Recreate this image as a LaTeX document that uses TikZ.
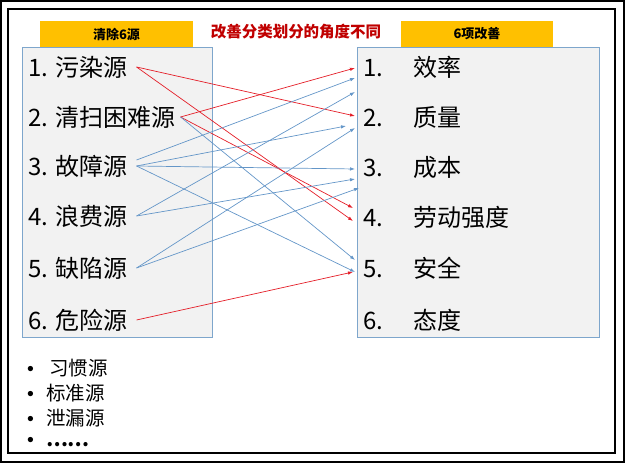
\documentclass[tikz,border=0pt]{standalone}
\usepackage{fontspec}
\setmainfont{Noto Sans CJK SC}
\newfontfamily\bulfont{Liberation Sans}
\usetikzlibrary{arrows.meta}
\definecolor{hdrorange}{RGB}{255,192,0}
\definecolor{boxfill}{RGB}{242,242,242}
\definecolor{boxline}{RGB}{126,166,204}
\definecolor{arrblue}{RGB}{100,150,200}
\definecolor{arrred}{RGB}{228,30,40}
\definecolor{titlered}{RGB}{192,0,0}
\newcommand{\bul}{{\bulfont •}}

\begin{document}
\begin{tikzpicture}[x=1pt,y=1pt,
    hdrbox/.style={fill=hdrorange, minimum height=26pt, inner sep=0pt, font=\fontsize{13}{13}\bfseries},
    listbox/.style={draw=boxline, fill=boxfill, line width=0.8pt, minimum height=290pt, inner sep=0pt},
    srcitem/.style={anchor=west, inner sep=0pt, font=\fontsize{24}{24}\selectfont},
    bulitem/.style={anchor=west, inner sep=0pt, font=\fontsize{19.5}{20}\selectfont},
    redarr/.style={draw=arrred, line width=0.7pt, -{Latex[length=5pt,width=3.5pt]}},
    bluearr/.style={draw=arrblue, line width=0.7pt, -{Latex[length=5pt,width=3.5pt]}}]

      \useasboundingbox (0,0) rectangle (625,463);
      \draw[line width=2pt] (1,1) rectangle (624,462);
      \draw[line width=1.2pt] (8,10) rectangle (615,454);

      % the two lists
      \node[listbox, minimum width=190pt] (lbox) at (117,271) {};
      \node[listbox, minimum width=242pt] (rbox) at (478,271) {};
      \node[hdrbox, minimum width=153pt] (lhdr) at (116.5,429) {清除6源};
      \node[hdrbox, minimum width=152pt] (rhdr) at (477,429) {6项改善};
      \node[font=\fontsize{15.5}{16}\bfseries, text=titlered] (title) at (296,431) {改善分类划分的角度不同};

      \node[srcitem] (s1) at (28,396) {1. 污染源};
      \node[srcitem] (s2) at (28,346) {2. 清扫困难源};
      \node[srcitem] (s3) at (28,297) {3. 故障源};
      \node[srcitem] (s4) at (28,247) {4. 浪费源};
      \node[srcitem] (s5) at (28,195) {5. 缺陷源};
      \node[srcitem] (s6) at (28,143) {6. 危险源};

      \node[srcitem] (t1) at (363,396) {\makebox[50pt][l]{1.}效率};
      \node[srcitem] (t2) at (363,346) {\makebox[50pt][l]{2.}质量};
      \node[srcitem] (t3) at (363,296) {\makebox[50pt][l]{3.}成本};
      \node[srcitem] (t4) at (363,246) {\makebox[50pt][l]{4.}劳动强度};
      \node[srcitem] (t5) at (363,195) {\makebox[50pt][l]{5.}安全};
      \node[srcitem] (t6) at (363,143) {\makebox[50pt][l]{6.}态度};

      % links
      \draw[redarr] ([xshift=5pt]s2.east) -- ([xshift=-8pt,yshift=-1pt]t1.west);
      \draw[redarr] ([xshift=5pt]s2.east) -- ([xshift=-10pt,yshift=9pt]t4.west);
      \draw[bluearr] ([xshift=5pt]s2.east) -- ([xshift=-8pt,yshift=8pt]t5.west);
      \draw[redarr] ([xshift=9pt]s1.east) -- ([xshift=-8pt,yshift=1pt]t2.west);
      \draw[redarr] ([xshift=9pt]s1.east) -- ([xshift=-10pt,yshift=-4pt]t4.west);
      \draw[bluearr] ([xshift=9pt,yshift=6pt]s3.east) -- ([xshift=-8pt,yshift=-11pt]t1.west);
      \draw[bluearr] ([xshift=9pt]s3.east) -- ([xshift=-17pt,yshift=-9pt]t2.west);
      \draw[bluearr] ([xshift=9pt]s3.east) -- ([xshift=-8pt,yshift=-2pt]t3.west);
      \draw[bluearr] ([xshift=9pt]s3.east) -- ([xshift=-8pt,yshift=-4pt]t5.west);
      \draw[bluearr] ([xshift=9pt]s4.east) -- ([xshift=-8pt,yshift=-25pt]t1.west);
      \draw[bluearr] ([xshift=9pt]s4.east) -- ([xshift=-8pt,yshift=-12pt]t3.west);
      \draw[bluearr] ([xshift=9pt]s5.east) -- ([xshift=-8pt,yshift=-11pt]t2.west);
      \draw[bluearr] ([xshift=9pt]s5.east) -- ([xshift=-4pt,yshift=-21pt]t3.west);
      \draw[redarr] ([xshift=9pt]s6.east) -- ([xshift=-10pt,yshift=-4pt]t5.west);

      \node[bulitem] (b1) at (27,95) {\bul\hspace{15pt}习惯源};
      \node[bulitem] (b2) at (27,70) {\bul\hspace{12pt}标准源};
      \node[bulitem] (b3) at (27,45) {\bul\hspace{12pt}泄漏源};
      \node[bulitem] (b4) at (27,21) {\bul\hspace{12pt}\bfseries ……};
    \end{tikzpicture}
\end{document}
